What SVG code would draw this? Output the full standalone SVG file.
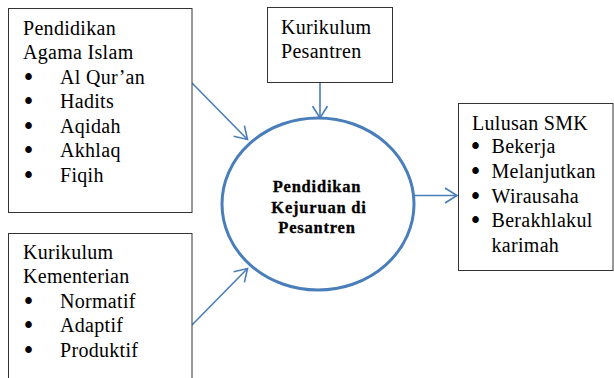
<svg xmlns="http://www.w3.org/2000/svg" width="614" height="378" viewBox="0 0 614 378">
  <style>
    .box { fill: #ffffff; stroke: #333333; stroke-width: 1; }
    .t { font-family: "Liberation Serif", "Times New Roman", serif; font-size: 20px; fill: #000000; letter-spacing: 0.3px; }
    .b { font-family: "Liberation Serif", "Times New Roman", serif; font-size: 20px; fill: #000000; stroke: #000000; stroke-width: 1.8px; stroke-linejoin: round; }
    .c { font-family: "Liberation Serif", "Times New Roman", serif; font-size: 16.5px; font-weight: bold; fill: #000000; stroke: #000000; stroke-width: 0.3px; letter-spacing: 0.8px; text-anchor: middle; }
    .link { fill: none; stroke: #4A7EBB; stroke-width: 1.6; }
    .hub { fill: #ffffff; stroke: #4A7EBB; stroke-width: 3; }
  </style>
  <defs>
    <marker id="arrow" markerUnits="userSpaceOnUse" markerWidth="20" markerHeight="20" refX="0" refY="0" viewBox="-14 -10 16 20" orient="auto" overflow="visible">
      <path d="M-12,-7.5 L0,0 L-12,7.5" fill="none" stroke="#4A7EBB" stroke-width="1.6"/>
    </marker>
  </defs>

  <rect width="614" height="378" fill="#ffffff"/>

  <g id="connectors">
    <line class="link" x1="192" y1="83" x2="247.5" y2="139.5" marker-end="url(#arrow)"/>
    <line class="link" x1="192" y1="325" x2="247.5" y2="268.5" marker-end="url(#arrow)"/>
    <line class="link" x1="320" y1="82" x2="320" y2="118" marker-end="url(#arrow)"/>
    <line class="link" x1="415" y1="195.5" x2="457" y2="195.5" marker-end="url(#arrow)"/>
  </g>

  <g id="node-pai">
    <rect class="box" x="8.5" y="8.5" width="183.5" height="204"/>
    <text class="t" x="23" y="35">Pendidikan</text>
    <text class="t" x="23" y="59">Agama Islam</text>
    <text class="b" x="25" y="83.5">•</text>
    <text class="t" x="60" y="83.5">Al Qur’an</text>
    <text class="b" x="25" y="108">•</text>
    <text class="t" x="60" y="108">Hadits</text>
    <text class="b" x="25" y="132.5">•</text>
    <text class="t" x="60" y="132.5">Aqidah</text>
    <text class="b" x="25" y="157">•</text>
    <text class="t" x="60" y="157">Akhlaq</text>
    <text class="b" x="25" y="181.5">•</text>
    <text class="t" x="60" y="181.5">Fiqih</text>
  </g>

  <g id="node-kementerian">
    <rect class="box" x="8.5" y="233.5" width="183.5" height="160"/>
    <text class="t" x="23" y="259">Kurikulum</text>
    <text class="t" x="23" y="283">Kementerian</text>
    <text class="b" x="25" y="307.5">•</text>
    <text class="t" x="60" y="307.5">Normatif</text>
    <text class="b" x="25" y="332">•</text>
    <text class="t" x="60" y="332">Adaptif</text>
    <text class="b" x="25" y="356.5">•</text>
    <text class="t" x="60" y="356.5">Produktif</text>
  </g>

  <g id="node-pesantren">
    <rect class="box" x="267.5" y="7.5" width="125" height="75"/>
    <text class="t" x="281" y="34">Kurikulum</text>
    <text class="t" x="281" y="58">Pesantren</text>
  </g>

  <g id="node-hub">
    <ellipse class="hub" cx="318" cy="204" rx="96" ry="86"/>
    <text class="c" x="317" y="192">Pendidikan</text>
    <text class="c" x="319" y="212.5">Kejuruan di</text>
    <text class="c" x="317" y="233">Pesantren</text>
  </g>

  <g id="node-lulusan">
    <rect class="box" x="458.5" y="103.5" width="154.5" height="167"/>
    <text class="t" x="472" y="130">Lulusan SMK</text>
    <text class="b" x="472" y="153">•</text>
    <text class="t" x="491.5" y="153">Bekerja</text>
    <text class="b" x="472" y="177.5">•</text>
    <text class="t" x="491.5" y="177.5">Melanjutkan</text>
    <text class="b" x="472" y="202.5">•</text>
    <text class="t" x="491.5" y="202.5">Wirausaha</text>
    <text class="b" x="472" y="227">•</text>
    <text class="t" x="491.5" y="227">Berakhlakul</text>
    <text class="t" x="491.5" y="251.5">karimah</text>
  </g>
</svg>
